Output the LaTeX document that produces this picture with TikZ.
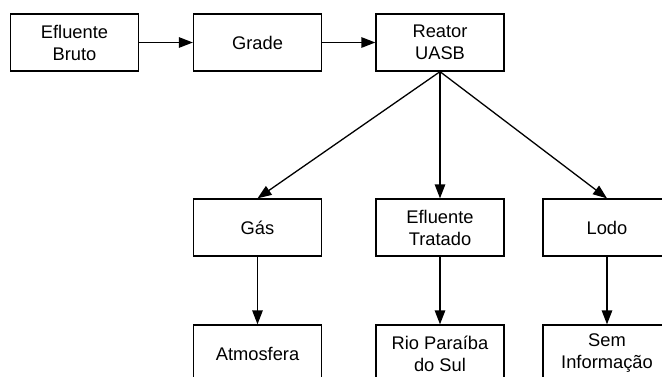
\documentclass[tikz,border=0pt]{standalone}
\usepackage{fontspec}
\setmainfont{Liberation Sans}
\usetikzlibrary{arrows.meta}
\begin{document}
\begin{tikzpicture}[x=1pt,y=-1pt,
  box/.style={draw=black,line width=1.3pt,minimum width=128pt,minimum height=57pt,
    inner sep=0pt,align=center,font=\fontsize{18.3}{22}\selectfont},
  conn/.style={draw=black,line width=1.3pt,-{Triangle[length=14pt,width=10.5pt]}}]
\useasboundingbox (0,0) rectangle (662,376);
\clip (0,0) rectangle (662,376);
\node[box] (bruto) at (74.5,42.5) {Efluente\\Bruto};
\node[box] (grade) at (257.5,42.5) {Grade};
\node[box] (reator) at (440,42.5) {Reator\\UASB};
\node[box] (gas) at (257.5,227.5) {Gás};
\node[box] (tratado) at (440,227.5) {Efluente\\Tratado};
\node[box] (lodo) at (607,227.5) {Lodo};
\node[box] (atm) at (257.5,353.5) {Atmosfera};
\node[box] (rio) at (440,353.5) {Rio Paraíba\\do Sul};
\node[box] (sem) at (607,353.5) {Sem\\Informação};
\draw[conn] (bruto.east) -- (grade.west);
\draw[conn] (grade.east) -- (reator.west);
\draw[conn] (reator.south) -- (gas.north);
\draw[conn] (reator.south) -- (tratado.north);
\draw[conn] (reator.south) -- (lodo.north);
\draw[conn] (gas.south) -- (atm.north);
\draw[conn] (tratado.south) -- (rio.north);
\draw[conn] (lodo.south) -- (sem.north);
\end{tikzpicture}
\end{document}
